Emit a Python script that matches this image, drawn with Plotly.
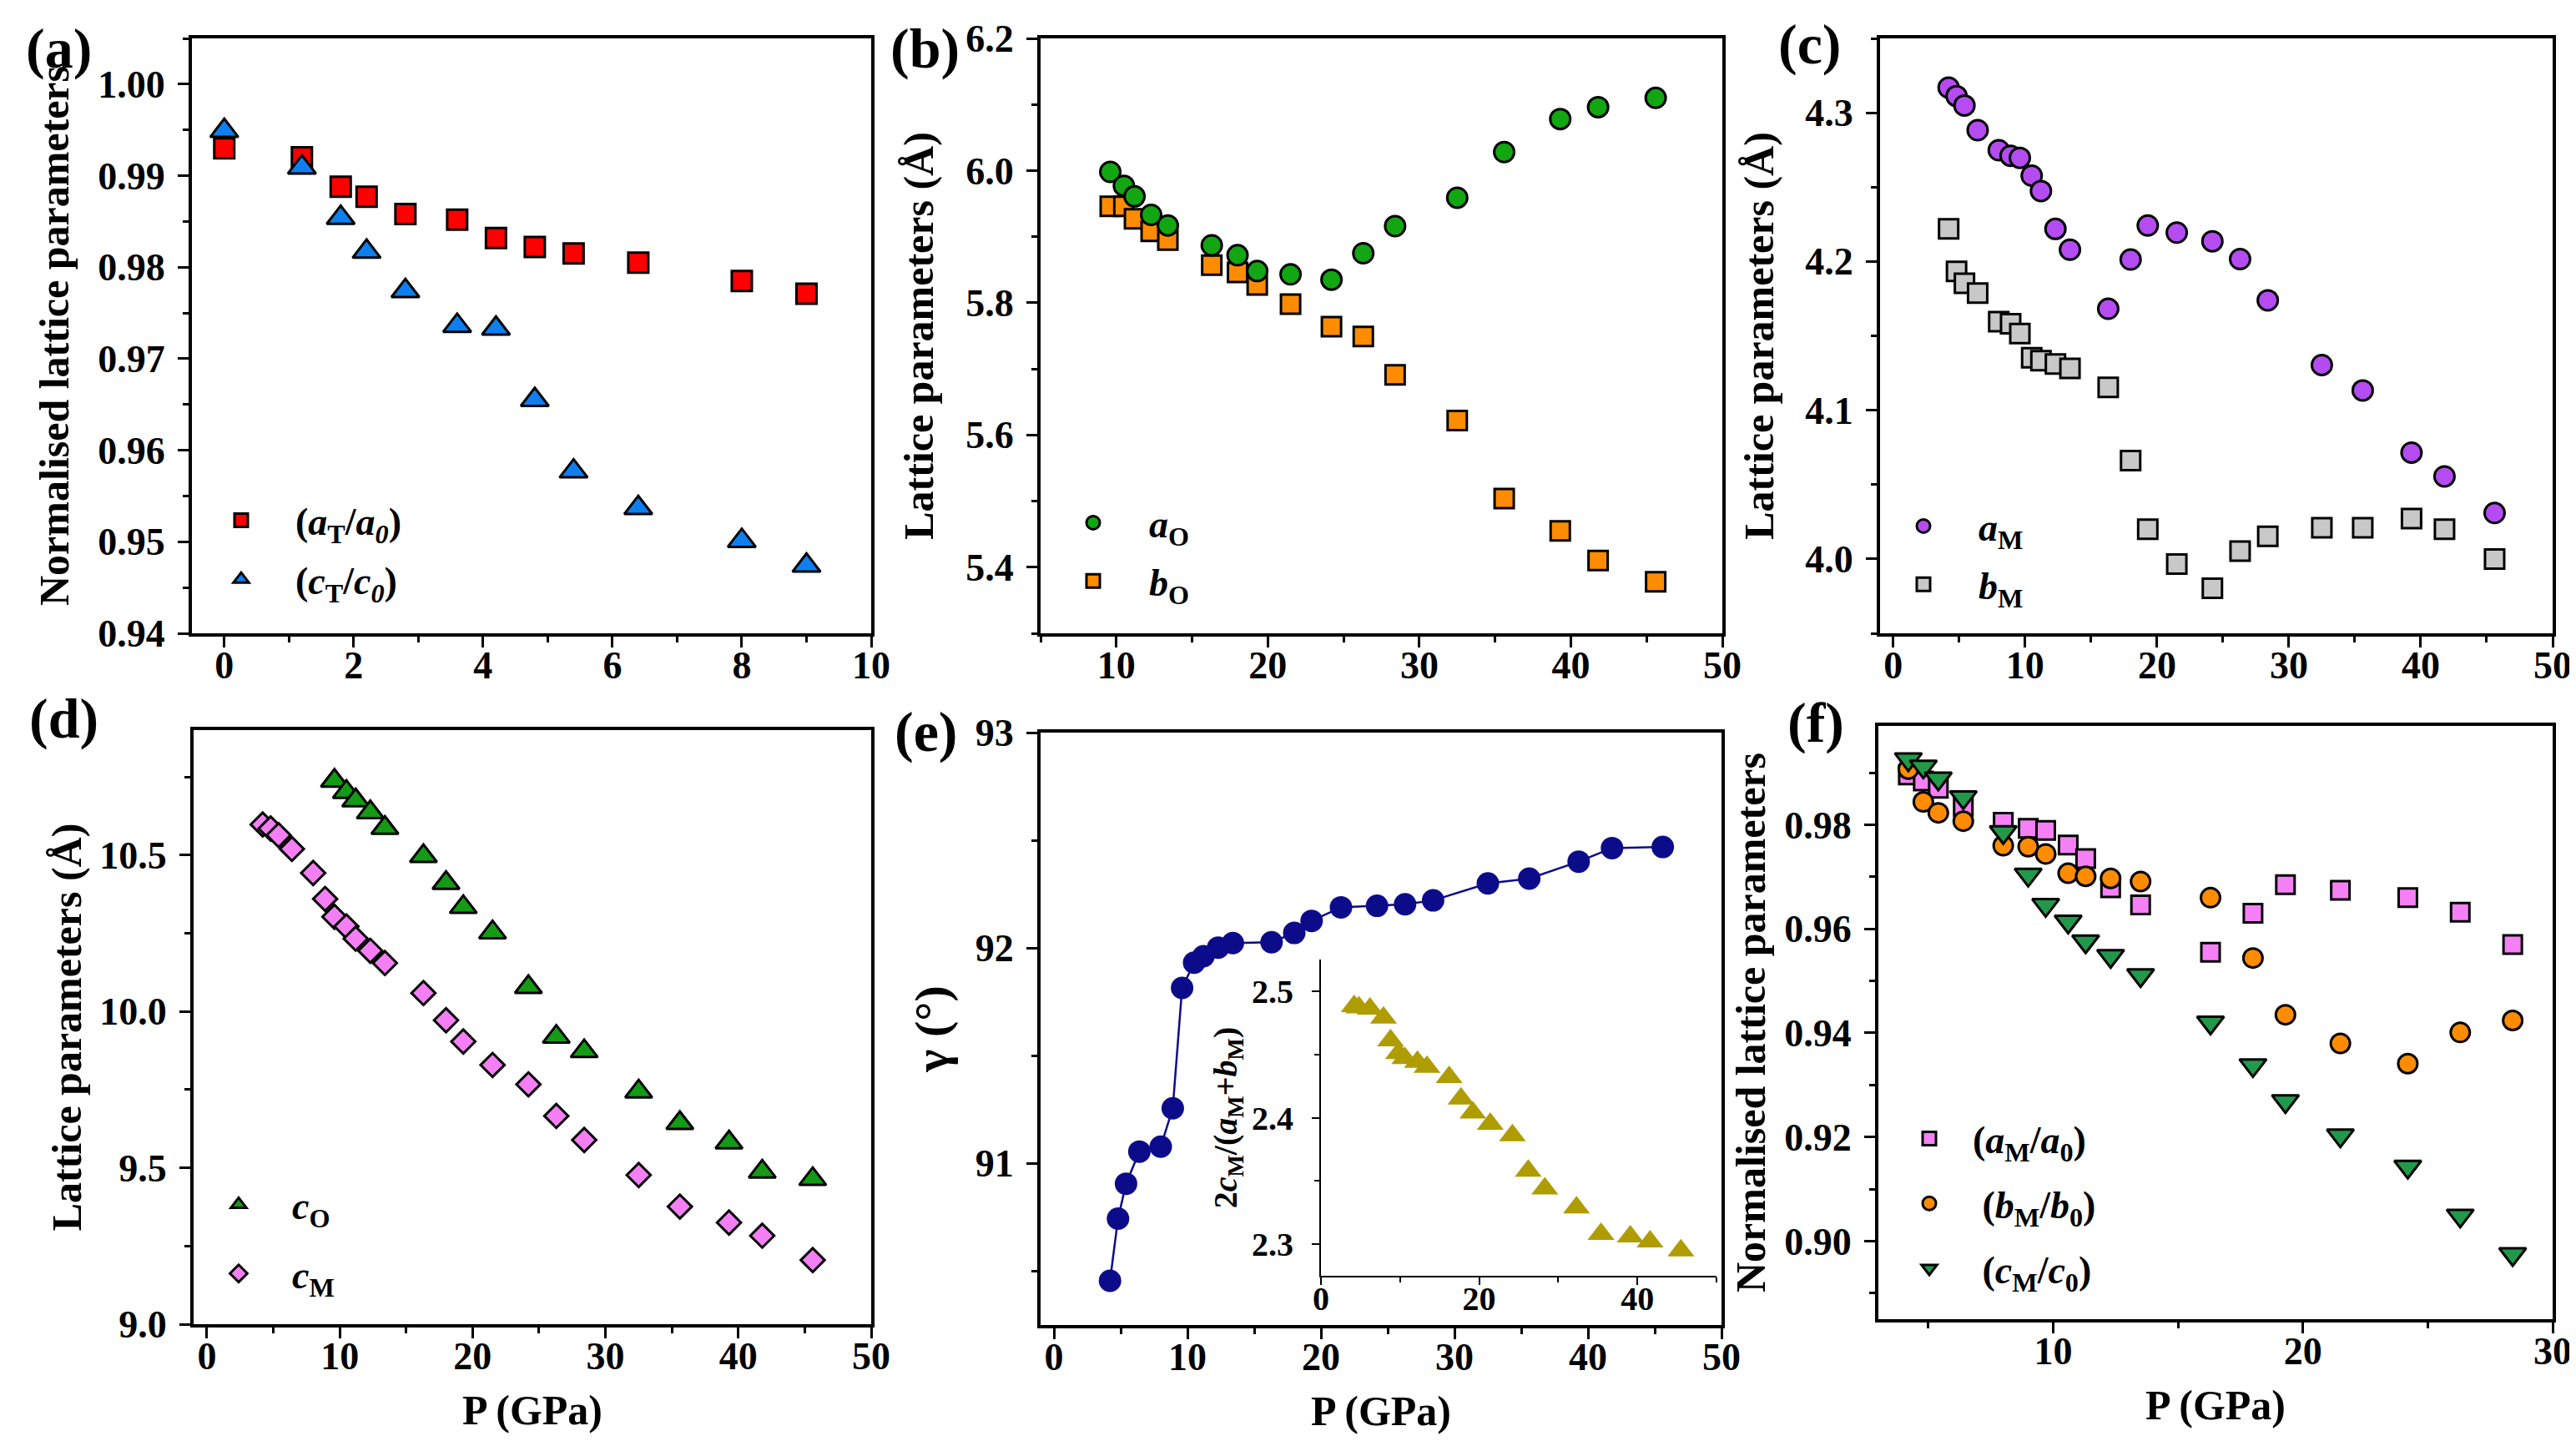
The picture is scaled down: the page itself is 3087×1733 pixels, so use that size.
import plotly.graph_objects as go

W, H = 3087, 1733
FONT = "Liberation Serif"

# ---------------- data ----------------
# (a) tetragonal phase, normalised
P_T = [0, 1.2, 1.8, 2.2, 2.8, 3.6, 4.2, 4.8, 5.4, 6.4, 8.0, 9.0]
aT_norm = [0.9930, 0.9920, 0.9888, 0.9877, 0.9858, 0.9852, 0.9832, 0.9822, 0.9815, 0.9805, 0.9785, 0.9771]
cT_norm = [0.9949, 0.9909, 0.9854, 0.9817, 0.9774, 0.9736, 0.9733, 0.9655, 0.9577, 0.9537, 0.9501, 0.9474]

# (b) orthorhombic phase
P_O = [9.6, 10.5, 11.2, 12.3, 13.4, 16.3, 18.0, 19.3, 21.5, 24.2, 26.3, 28.4, 32.5, 35.6, 39.3, 41.8, 45.6]
a_O = [5.998, 5.977, 5.961, 5.933, 5.917, 5.887, 5.872, 5.848, 5.843, 5.835, 5.875, 5.916, 5.959, 6.028, 6.078, 6.096, 6.110]
b_O = [5.946, 5.946, 5.927, 5.908, 5.895, 5.857, 5.846, 5.827, 5.798, 5.764, 5.749, 5.691, 5.622, 5.504, 5.455, 5.410, 5.378]

# (c) monoclinic phase
P_M = [4.2, 4.8, 5.4, 6.4, 8.0, 8.9, 9.6, 10.5, 11.2, 12.3, 13.4, 16.3, 18.0, 19.3, 21.5, 24.2, 26.3, 28.4, 32.5, 35.6, 39.3, 41.8, 45.6]
a_M = [4.3169, 4.3112, 4.3049, 4.2883, 4.2748, 4.2711, 4.2697, 4.2577, 4.2474, 4.2219, 4.2079, 4.1682, 4.2013, 4.2242,
       4.2194, 4.2136, 4.2016, 4.1739, 4.1304, 4.1133, 4.0715, 4.0555, 4.0309]
b_M = [4.2219, 4.1933, 4.1853, 4.1788, 4.1596, 4.1582, 4.1516, 4.1353, 4.1333, 4.1310, 4.1281, 4.1153, 4.0661, 4.0200,
       3.9966, 3.9803, 4.0052, 4.0152, 4.0209, 4.0209, 4.0272, 4.0200, 4.0000]

# (d) c parameters
c_O = [10.738, 10.702, 10.675, 10.637, 10.587, 10.497, 10.411, 10.334, 10.253, 10.078, 9.919, 9.873, 9.744, 9.643, 9.581, 9.488, 9.464]
c_M = [10.598, 10.585, 10.564, 10.520, 10.443, 10.360, 10.303, 10.272, 10.233, 10.194, 10.155, 10.059, 9.972, 9.904,
       9.829, 9.767, 9.666, 9.589, 9.477, 9.376, 9.325, 9.283, 9.205]

# (e) monoclinic angle and inset ratio
gamma = [90.455, 90.744, 90.906, 91.055, 91.078, 91.256, 91.815, 91.932, 91.962, 92.002, 92.023, 92.027, 92.070, 92.126,
         92.189, 92.196, 92.203, 92.221, 92.300, 92.322, 92.401, 92.464, 92.469]
P_inset = [4.2, 4.8, 6.2, 7.9, 8.8, 9.8, 10.6, 12.2, 13.4, 16.2, 17.7, 19.2, 21.4, 24.2, 26.2, 28.3, 32.3, 35.4, 39.1, 41.6, 45.5]
ratio = [2.488, 2.487, 2.486, 2.479, 2.461, 2.451, 2.447, 2.444, 2.440, 2.432, 2.415, 2.404, 2.395, 2.386, 2.358, 2.344,
         2.329, 2.308, 2.306, 2.302, 2.295]

# (f) monoclinic normalised
P_f = [4.2, 4.8, 5.4, 6.4, 8.0, 9.0, 9.7, 10.6, 11.3, 12.3, 13.5, 16.3, 18.0, 19.3, 21.5, 24.2, 26.3, 28.4]
aM_norm = [0.9896, 0.9884, 0.9870, 0.9835, 0.9805, 0.9793, 0.9789, 0.9761, 0.9735, 0.9679, 0.9646, 0.9555, 0.9630, 0.9685,
           0.9674, 0.9660, 0.9632, 0.9570]
bM_norm = [0.9907, 0.9844, 0.9823, 0.9807, 0.9760, 0.9758, 0.9744, 0.9707, 0.9701, 0.9697, 0.9691, 0.9660, 0.9544, 0.9435,
           0.9380, 0.9341, 0.9401, 0.9424]
cM_norm = [0.9926, 0.9912, 0.9889, 0.9853, 0.9786, 0.9704, 0.9646, 0.9614, 0.9576, 0.9548, 0.9511, 0.9420, 0.9338, 0.9269,
           0.9203, 0.9143, 0.9049, 0.8975]

# ---------------- helpers ----------------
def fx(p):
    return p / W


def fy(p):
    return 1 - p / H


fig = go.Figure()


def add(x, y, xa, ya, name, symbol, color, size, legend=None, rank=None, lw=3, mode="markers", line=None):
    fig.add_trace(go.Scatter(
        x=x, y=y, xaxis=xa, yaxis=ya, name=name, mode=mode,
        marker=dict(symbol=symbol, color=color, size=size, line=dict(color="black", width=lw)),
        line=line,
        showlegend=legend is not None,
        legend=legend if legend else "legend",
        legendgroup=name,
        legendrank=rank if rank else 1000,
        cliponaxis=False,
    ))


# (a)
add(P_T, aT_norm, "x", "y", "(<i>a</i><sub>T</sub>/<i>a</i><sub><i>0</i></sub>)", "square", "#FF0000", 24, "legend")
add(P_T, cT_norm, "x", "y", "(<i>c</i><sub>T</sub>/<i>c</i><sub><i>0</i></sub>)", "triangle-up", "#0F7FEF", 29, "legend")
# (b)
add(P_O, b_O, "x2", "y2", "<i>b</i><sub>O</sub>", "square", "#FF8C00", 23, "legend2", rank=2)
add(P_O, a_O, "x2", "y2", "<i>a</i><sub>O</sub>", "circle", "#12A612", 24, "legend2", rank=1)
# (c)
add(P_M, a_M, "x3", "y3", "<i>a</i><sub>M</sub>", "circle", "#B44CF2", 24, "legend3")
add(P_M, b_M, "x3", "y3", "<i>b</i><sub>M</sub>", "square", "#C8C8C8", 23, "legend3")
# (d)
add(P_O, c_O, "x4", "y4", "<i>c</i><sub>O</sub>", "triangle-up", "#149A14", 28, "legend4")
add(P_M, c_M, "x4", "y4", "<i>c</i><sub>M</sub>", "diamond", "#F47FF4", 22, "legend4")
# (e)
add(P_M, gamma, "x5", "y5", "gamma", "circle", "#0C0C8A", 27, None, lw=0, mode="lines+markers",
    line=dict(color="#0C0C8A", width=2.5))
add(P_inset, ratio, "x7", "y7", "ratio", "triangle-up", "#AF9C00", 28, None, lw=0)
# (f)
add(P_f, aM_norm, "x6", "y6", "(<i>a</i><sub>M</sub>/<i>a</i><sub>0</sub>)", "square", "#F580F5", 22, "legend5")
add(P_f, bM_norm, "x6", "y6", "\u00a0(<i>b</i><sub>M</sub>/<i>b</i><sub>0</sub>)", "circle", "#FF8C00", 23, "legend5")
add(P_f, cM_norm, "x6", "y6", "\u00a0(<i>c</i><sub>M</sub>/<i>c</i><sub>0</sub>)", "triangle-down", "#22994A", 28, "legend5")


def axis(domain, rng, dtick, mdtick, anchor, fmt=None, title=None, tsize=50, fsize=46,
         lw=4, ticklen=13, tw=3, mlen=7, mirror=True, standoff=None, tlstand=6):
    d = dict(
        domain=domain, range=rng, dtick=dtick, tick0=0, anchor=anchor, automargin=False,
        showline=True, linewidth=lw, linecolor="black", mirror=mirror,
        ticks="outside", ticklen=ticklen, tickwidth=tw, tickcolor="black",
        showgrid=False, zeroline=False,
        tickfont=dict(family=FONT, size=fsize, color="black", weight="bold"),
        minor=dict(ticks="outside", ticklen=mlen, tickwidth=tw, tickcolor="black", dtick=mdtick, tick0=0, showgrid=False),
        ticklabelstandoff=tlstand,
    )
    if fmt:
        d["tickformat"] = fmt
    if title:
        d["title"] = dict(text=title, font=dict(family=FONT, size=tsize, color="black", weight="bold"))
        if standoff is not None:
            d["title"]["standoff"] = standoff
    return d


row1_y = [fy(751), fy(38)]
dom_a = [fx(222), fx(1036)]
dom_b = [fx(1239), fx(2056)]
dom_c = [fx(2245), fx(3051)]
dom_d = [fx(224), fx(1036)]
dom_e = [fx(1239), fx(2055)]
dom_f = [fx(2243), fx(3051)]
row2_d = [fy(1579), fy(867)]
row2_e = [fy(1580), fy(870)]
row2_f = [fy(1573), fy(862)]

PG = "P (GPa)"
LP = "Lattice parameters (Å)"
NLP = "Normalised lattice parameters"
XS = -18  # x tick label standoff

layout = dict(
    width=W, height=H, autosize=False,
    margin=dict(l=0, r=0, t=0, b=0, pad=0, autoexpand=False),
    paper_bgcolor="white", plot_bgcolor="rgba(0,0,0,0)",
    font=dict(family=FONT, color="black"),
    xaxis=axis(dom_a, [-0.5, 10], 2, 1, "y", tlstand=XS),
    yaxis=axis(row1_y, [0.94, 1.005], 0.01, 0.005, "x", fmt=".2f", title=NLP, standoff=20),
    xaxis2=axis(dom_b, [5, 50], 10, 5, "y2", tlstand=XS),
    yaxis2=axis(row1_y, [5.3, 6.2], 0.2, 0.1, "x2", fmt=".1f", title=LP, standoff=24),
    xaxis3=axis(dom_c, [-1, 50], 10, 5, "y3", tlstand=XS),
    yaxis3=axis(row1_y, [3.95, 4.35], 0.1, 0.05, "x3", fmt=".1f", title=LP, standoff=23),
    xaxis4=axis(dom_d, [-1, 50], 10, 5, "y4", title=PG, standoff=23, tlstand=XS),
    yaxis4=axis(row2_d, [9.0, 10.9], 0.5, 0.25, "x4", fmt=".1f", title=LP, standoff=7),
    xaxis5=axis(dom_e, [-1, 50], 10, 5, "y5", title=PG, standoff=23, tlstand=XS),
    yaxis5=axis(row2_e, [90.25, 93.0], 1, 0.5, "x5", title="γ (°)", tsize=58, standoff=14),
    xaxis6=axis(dom_f, [3, 30], 10, 5, "y6", title=PG, standoff=23, tlstand=XS),
    yaxis6=axis(row2_f, [0.885, 0.999], 0.02, 0.01, "x6", fmt=".2f", title=NLP, standoff=8),
    xaxis7=axis([fx(1575), fx(2049)], [0, 50], 20, 10, "y7", fsize=40, lw=2, ticklen=9, tw=1.5, mlen=6,
                mirror=False, tlstand=-18),
    yaxis7=axis([fy(1521), fy(1142)], [2.275, 2.525], 0.1, 0.05, "x7", fmt=".1f", fsize=40, lw=2, ticklen=9,
                tw=1.5, mlen=6, mirror=False, tlstand=14,
                title="2<i>c</i><sub>M</sub>/(<i>a</i><sub>M</sub>+<i>b</i><sub>M</sub>)", tsize=40, standoff=5),
)


def leg(x_left, y_top, itemwidth, gap):
    return dict(
        x=fx(x_left), y=fy(y_top), xanchor="left", yanchor="top", xref="paper", yref="paper",
        bgcolor="rgba(0,0,0,0)", borderwidth=0, itemwidth=itemwidth, tracegroupgap=gap,
        font=dict(family=FONT, size=46, color="black", weight="bold"),
        itemsizing="trace",
    )


layout["legend"] = leg(216, 579, 120, 8)
layout["legend2"] = leg(1235, 582, 124, 7)
layout["legend3"] = leg(2231, 586, 122, 7)
layout["legend4"] = leg(214, 1399, 118, 20)
layout["legend5"] = leg(2252, 1320, 94, 15)

labels = [("(a)", 63, 50), ("(b)", 1100, 50), ("(c)", 2160, 45),
          ("(d)", 68, 853), ("(e)", 1101, 869), ("(f)", 2168, 858)]
layout["annotations"] = [
    dict(text=t, x=fx(px), y=fy(py), xref="paper", yref="paper", showarrow=False,
         xanchor="center", yanchor="middle", font=dict(family=FONT, size=68, color="black", weight="bold"))
    for t, px, py in labels
]

fig.update_layout(**layout)
fig.write_html("out.html")
